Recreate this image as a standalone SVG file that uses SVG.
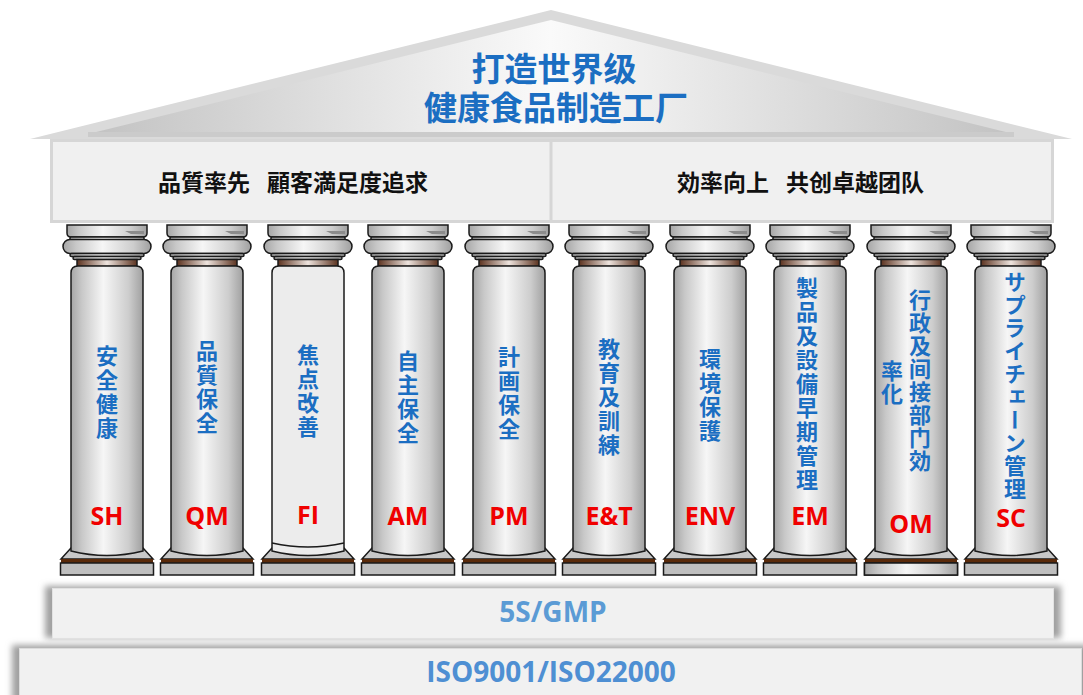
<svg xmlns="http://www.w3.org/2000/svg" xmlns:xlink="http://www.w3.org/1999/xlink" width="1083" height="695" viewBox="0 0 1083 695">
  <style>
    .cjk { font-family: "Noto Sans CJK JP", "Noto Sans CJK SC", sans-serif; font-weight: bold; }
    .title { font-size: 33px; fill: #1b6ec2; text-anchor: middle; }
    .frieze { font-size: 23px; fill: #111; }
    .vert { font-size: 22px; fill: #1b6ec2; writing-mode: vertical-rl; letter-spacing: 2px; }
    .tight { letter-spacing: 1px; }
    .code { font-family: "Open Sans", "Liberation Sans", sans-serif; font-weight: bold; font-size: 25px; fill: #f00000; text-anchor: middle; }
    .stepText { font-family: "Open Sans", "Liberation Sans", sans-serif; font-weight: bold; font-size: 28px; text-anchor: middle; }
    .ln { stroke: #1a1a1a; stroke-width: 1.5; }
  </style>
  <defs>
    <linearGradient id="gRoof" x1="0" y1="0" x2="1" y2="0">
      <stop offset="0" stop-color="#c2c2c2"/>
      <stop offset="0.5" stop-color="#fafafa"/>
      <stop offset="1" stop-color="#c2c2c2"/>
    </linearGradient>
    <linearGradient id="gStone" x1="0" y1="0" x2="1" y2="0">
      <stop offset="0" stop-color="#a6a6a6"/>
      <stop offset="0.15" stop-color="#c8c8c8"/>
      <stop offset="0.45" stop-color="#f6f6f6"/>
      <stop offset="0.8" stop-color="#cdcdcd"/>
      <stop offset="1" stop-color="#a0a0a0"/>
    </linearGradient>
    <linearGradient id="gBrown" x1="0" y1="0" x2="1" y2="0">
      <stop offset="0" stop-color="#5c3320"/>
      <stop offset="0.5" stop-color="#eee4de"/>
      <stop offset="1" stop-color="#5c3320"/>
    </linearGradient>
    <filter id="soft" x="-10%" y="-30%" width="120%" height="160%">
      <feGaussianBlur stdDeviation="3"/>
    </filter>

    <!-- one column drawn around x = 0 -->
    <g id="column">
      <!-- capital -->
      <path class="ln" fill="url(#gStone)" d="M-40,225 H40 V233 Q40,237 36,237 H-36 Q-40,237 -40,233 Z"/>
      <path fill="#8c8c8c" d="M18,231 H37 V234 H24 Z"/>
      <rect class="ln" fill="url(#gStone)" x="-37" y="237" width="74" height="3" rx="1"/>
      <rect class="ln" fill="url(#gStone)" x="-44" y="239.5" width="88" height="14" rx="7"/>
      <rect class="ln" fill="url(#gStone)" x="-37" y="253.5" width="74" height="3" rx="1.5"/>
      <rect class="ln" fill="url(#gStone)" x="-34" y="256.5" width="68" height="3" rx="1.5"/>
      <rect class="ln" fill="url(#gBrown)" x="-30" y="259.5" width="60" height="7"/>
      <!-- base -->
      <path class="ln" fill="#c8c8c8" d="M-36,548 L-46,559 H46 L36,548 Z"/>
      <rect fill="#5a2a0a" x="-46" y="559" width="92" height="4"/>
      <rect class="ln" fill="#bfbfbf" x="-46.5" y="563" width="93" height="12"/>
    </g>
    <path id="shaft" d="M-36,273 Q-36,266 -29,266 H29 Q36,266 36,273 V551 Q0,560 -36,551 Z"/>
  </defs>

  <!-- roof -->
  <g id="roof">
    <polygon fill="#dadada" points="30,139 551,10 1072,139"/>
    <polygon fill="url(#gRoof)" points="88,134 551,20 1014,134"/>
    <rect fill="#cbcbcb" x="88" y="132" width="926" height="5"/>
    <text class="cjk title" x="554" y="81">打造世界级</text>
    <text class="cjk title" x="556" y="120">健康食品制造工厂</text>
  </g>

  <!-- frieze -->
  <g id="frieze">
    <rect fill="#f0f0f0" stroke="#d6d6d6" stroke-width="3" x="51.5" y="140.5" width="1001" height="81"/>
    <line stroke="#d6d6d6" stroke-width="3" x1="551" y1="141" x2="551" y2="221"/>
    <text class="cjk frieze" y="191"><tspan x="158">品質率先</tspan><tspan x="267">顧客満足度追求</tspan></text>
    <text class="cjk frieze" y="191"><tspan x="677">効率向上</tspan><tspan x="786">共创卓越团队</tspan></text>
  </g>

  <!-- columns -->
  <g id="pillar-sh" transform="translate(107,0)">
    <use href="#column"/><use href="#shaft" class="ln" fill="url(#gStone)"/>
    <text class="cjk vert" x="0" y="345">安全健康</text>
    <text class="code" x="0" y="525">SH</text>
  </g>
  <g id="pillar-qm" transform="translate(207,0)">
    <use href="#column"/><use href="#shaft" class="ln" fill="url(#gStone)"/>
    <text class="cjk vert" x="0" y="340">品質保全</text>
    <text class="code" x="0" y="525">QM</text>
  </g>
  <g id="pillar-fi" transform="translate(308,0)">
    <use href="#column"/><use href="#shaft" class="ln" fill="#ececec"/>
    <path class="ln" fill="none" d="M-36,543 Q0,551 36,543"/>
    <text class="cjk vert" x="0" y="344">焦点改善</text>
    <text class="code" x="0" y="524">FI</text>
  </g>
  <g id="pillar-am" transform="translate(408,0)">
    <use href="#column"/><use href="#shaft" class="ln" fill="url(#gStone)"/>
    <text class="cjk vert" x="0" y="350">自主保全</text>
    <text class="code" x="0" y="525">AM</text>
  </g>
  <g id="pillar-pm" transform="translate(509,0)">
    <use href="#column"/><use href="#shaft" class="ln" fill="url(#gStone)"/>
    <text class="cjk vert" x="0" y="346">計画保全</text>
    <text class="code" x="0" y="525">PM</text>
  </g>
  <g id="pillar-et" transform="translate(609,0)">
    <use href="#column"/><use href="#shaft" class="ln" fill="url(#gStone)"/>
    <text class="cjk vert" x="0" y="338">教育及訓練</text>
    <text class="code" x="0" y="525">E&amp;T</text>
  </g>
  <g id="pillar-env" transform="translate(710,0)">
    <use href="#column"/><use href="#shaft" class="ln" fill="url(#gStone)"/>
    <text class="cjk vert" x="0" y="348">環境保護</text>
    <text class="code" x="0" y="525">ENV</text>
  </g>
  <g id="pillar-em" transform="translate(810,0)">
    <use href="#column"/><use href="#shaft" class="ln" fill="url(#gStone)"/>
    <text class="cjk vert" x="-3" y="277">製品及設備早期管理</text>
    <text class="code" x="0" y="525">EM</text>
  </g>
  <g id="pillar-om" transform="translate(911,0)">
    <use href="#column"/><use href="#shaft" class="ln" fill="url(#gStone)"/>
    <rect class="ln" fill="url(#gStone)" x="-46.5" y="563" width="93" height="12"/>
    <text class="cjk vert tight" x="9" y="289">行政及间接部门効</text>
    <text class="cjk vert tight" x="-19" y="360">率化</text>
    <text class="code" x="0" y="533">OM</text>
  </g>
  <g id="pillar-sc" transform="translate(1011,0)">
    <use href="#column"/><use href="#shaft" class="ln" fill="url(#gStone)"/>
    <text class="cjk vert tight" x="4" y="271">サプライチェーン管理</text>
    <text class="code" x="0" y="527">SC</text>
  </g>

  <!-- foundation steps -->
  <g id="step-5s">
    <rect fill="#a0a0a0" filter="url(#soft)" x="45" y="586" width="1016" height="52"/>
    <rect fill="#f1f1f1" stroke="#e2e2e2" x="52.5" y="588.5" width="1001" height="50"/>
    <text class="stepText" fill="#5b9bd5" x="553" y="622">5S/GMP</text>
  </g>
  <g id="step-iso">
    <rect fill="#a0a0a0" filter="url(#soft)" x="12" y="645" width="1080" height="60"/>
    <rect fill="#f1f1f1" stroke="#dcdcdc" x="19.5" y="648.5" width="1062" height="50"/>
    <text class="stepText" fill="#4e8fd3" x="551" y="682">ISO9001/ISO22000</text>
  </g>
</svg>
